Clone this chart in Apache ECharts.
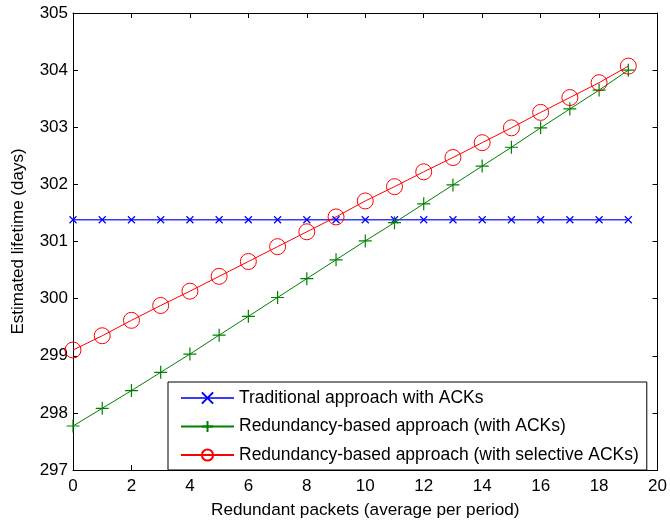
<!DOCTYPE html>
<html><head><meta charset="utf-8">
<script src="https://cdn.jsdelivr.net/npm/echarts@6/dist/echarts.min.js"></script>
<style>html,body{margin:0;padding:0;background:#fff}#c{width:670px;height:524px}</style>
</head><body><div id="c"></div>
<script>
const packets = [0,1,2,3,4,5,6,7,8,9,10,11,12,13,14,15,16,17,18,19];
const traditional = [301.38,301.38,301.38,301.38,301.38,301.38,301.38,301.38,301.38,301.38,301.38,301.38,301.38,301.38,301.38,301.38,301.38,301.38,301.38,301.38];
const redundancyAck = [297.77,298.08,298.39,298.71,299.03,299.36,299.69,300.02,300.35,300.68,301.01,301.33,301.66,301.99,302.32,302.65,302.99,303.32,303.65,304.0];
const redundancySelAck = [299.1,299.35,299.62,299.88,300.13,300.39,300.65,300.91,301.17,301.43,301.71,301.96,302.22,302.47,302.73,302.99,303.26,303.52,303.78,304.07];
const seriesNames = ['Traditional approach with ACKs','Redundancy-based approach (with ACKs)','Redundancy-based approach (with selective ACKs)'];
const xTitle = 'Redundant packets (average per period)';
const yTitle = 'Estimated lifetime (days)';

const font = 'Liberation Sans, Arial, sans-serif';
const chart = echarts.init(document.getElementById('c'), null, {renderer:'canvas'});
const pairs = arr => packets.map((p,i)=>[p,arr[i]]);
const baseX = {type:'value', min:0, max:20, interval:2,
  axisLine:{show:true,onZero:false,lineStyle:{color:'#000',width:1}},
  axisTick:{show:true,inside:true,length:5,lineStyle:{color:'#000'}},
  splitLine:{show:false}};
const baseY = {type:'value', min:297, max:305, interval:1,
  axisLine:{show:true,onZero:false,lineStyle:{color:'#000',width:1}},
  axisTick:{show:true,inside:true,length:5,lineStyle:{color:'#000'}},
  splitLine:{show:false}};
chart.setOption({
  animation:false,
  backgroundColor:'#fff',
  textStyle:{fontFamily:font},
  grid:{left:73,right:10,top:13,bottom:52,containLabel:false},
  xAxis:[
    Object.assign({}, baseX, {position:'bottom',
      axisLabel:{color:'#000',fontSize:17,fontFamily:font,margin:8},
      name:xTitle,nameLocation:'middle',nameGap:32,
      nameTextStyle:{color:'#000',fontSize:17.2,fontFamily:font}}),
    Object.assign({}, baseX, {position:'top',axisLabel:{show:false}})
  ],
  yAxis:[
    Object.assign({}, baseY, {position:'left',
      axisLabel:{color:'#000',fontSize:17,fontFamily:font,margin:5},
      name:yTitle,nameLocation:'middle',nameGap:46,
      nameTextStyle:{color:'#000',fontSize:17,fontFamily:font}}),
    Object.assign({}, baseY, {position:'right',axisLabel:{show:false}})
  ],
  legend:{
    orient:'vertical', left:168, top:382,
    backgroundColor:'#fff', borderColor:'#000', borderWidth:1,
    padding:[7,8,6,12], itemWidth:53, itemHeight:14, itemGap:10.5,
    textStyle:{color:'#000',fontSize:17.5,fontFamily:font},
    data:seriesNames
  },
  series:[
    {name:seriesNames[0], type:'line', data:pairs(traditional),
     symbol:'path://M0,0L10,10M10,0L0,10', symbolSize:7, showAllSymbol:true,
     lineStyle:{color:'#3a3aff',width:1.6},
     itemStyle:{color:'none',borderColor:'#0000ff',borderWidth:1.2}, z:2},
    {name:seriesNames[1], type:'line', data:pairs(redundancyAck),
     symbol:'path://M5,0L5,10M0,5L10,5', symbolSize:13, showAllSymbol:true,
     lineStyle:{color:'#008000',width:1},
     itemStyle:{color:'none',borderColor:'#008000',borderWidth:1.2}, z:3},
    {name:seriesNames[2], type:'line', data:pairs(redundancySelAck),
     symbol:'circle', symbolSize:16, showAllSymbol:true,
     lineStyle:{color:'#ff0000',width:1},
     itemStyle:{color:'rgba(0,0,0,0)',borderColor:'#ff0000',borderWidth:1}, z:4}
  ]
});
</script></body></html>
